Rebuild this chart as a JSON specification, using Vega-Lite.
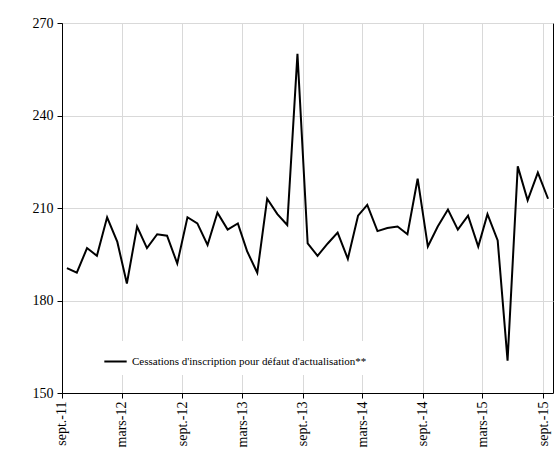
{
"$schema":"https://vega.github.io/schema/vega-lite/v6.json",
"width":491,"height":370,
"autosize":{"type":"none"},
"padding":{"left":62,"top":23,"right":6,"bottom":81},
"background":"white",
"config":{"font":"Liberation Serif","view":{"stroke":"black","strokeWidth":1}},
"data":{"values":[
{"d":"2011-09-01","v":190.5},{"d":"2011-10-01","v":189},{"d":"2011-11-01","v":197},{"d":"2011-12-01","v":194.5},
{"d":"2012-01-01","v":207},{"d":"2012-02-01","v":199},{"d":"2012-03-01","v":185.5},{"d":"2012-04-01","v":204},
{"d":"2012-05-01","v":197},{"d":"2012-06-01","v":201.5},{"d":"2012-07-01","v":201},{"d":"2012-08-01","v":192},
{"d":"2012-09-01","v":207},{"d":"2012-10-01","v":205},{"d":"2012-11-01","v":198},{"d":"2012-12-01","v":208.5},
{"d":"2013-01-01","v":203},{"d":"2013-02-01","v":205},{"d":"2013-03-01","v":196},{"d":"2013-04-01","v":189},
{"d":"2013-05-01","v":213},{"d":"2013-06-01","v":208},{"d":"2013-07-01","v":204.5},{"d":"2013-08-01","v":260},
{"d":"2013-09-01","v":198.5},{"d":"2013-10-01","v":194.5},{"d":"2013-11-01","v":198.5},{"d":"2013-12-01","v":202},
{"d":"2014-01-01","v":193.5},{"d":"2014-02-01","v":207.5},{"d":"2014-03-01","v":211},{"d":"2014-04-01","v":202.5},
{"d":"2014-05-01","v":203.5},{"d":"2014-06-01","v":204},{"d":"2014-07-01","v":201.5},{"d":"2014-08-01","v":219.5},
{"d":"2014-09-01","v":197.5},{"d":"2014-10-01","v":204},{"d":"2014-11-01","v":209.5},{"d":"2014-12-01","v":203},
{"d":"2015-01-01","v":207.5},{"d":"2015-02-01","v":197.5},{"d":"2015-03-01","v":208},{"d":"2015-04-01","v":199.5},
{"d":"2015-05-01","v":160.5},{"d":"2015-06-01","v":223.5},{"d":"2015-07-01","v":212.5},{"d":"2015-08-01","v":221.5},
{"d":"2015-09-01","v":213}
]},
"mark":{"type":"line","strokeWidth":2},
"encoding":{
"x":{"field":"d","type":"temporal","title":null,
"scale":{"type":"utc","domain":[{"year":2011,"month":8,"date":17,"utc":true},{"year":2015,"month":9,"date":16,"utc":true}],"nice":false},
"axis":{"values":[
{"year":2011,"month":9,"date":1,"utc":true},{"year":2012,"month":3,"date":1,"utc":true},
{"year":2012,"month":9,"date":1,"utc":true},{"year":2013,"month":3,"date":1,"utc":true},
{"year":2013,"month":9,"date":1,"utc":true},{"year":2014,"month":3,"date":1,"utc":true},
{"year":2014,"month":9,"date":1,"utc":true},{"year":2015,"month":3,"date":1,"utc":true},
{"year":2015,"month":9,"date":1,"utc":true}],
"tickOffset":-5,
"labelAngle":-90,"labelAlign":"right","labelBaseline":"middle","labelFontSize":14,"labelColor":"black","labelFont":"Liberation Serif","labelExpr":"(utcmonth(datum.value)==2?'mars-':'sept.-')+utcFormat(datum.value,'%y')","grid":true,"gridColor":"#d9d9d9","domainColor":"black","tickColor":"black","tickSize":5,"labelPadding":3,"labelFlush":false,"labelOverlap":false}},
"y":{"field":"v","type":"quantitative","title":null,
"scale":{"domain":[150,270],"nice":false,"zero":false},
"axis":{"values":[150,180,210,240,270],"labelFontSize":14,"labelColor":"black","labelFont":"Liberation Serif","grid":true,"gridColor":"#d9d9d9","domainColor":"black","tickColor":"black","tickSize":5,"labelPadding":4}},
"color":{"datum":"Cessations d'inscription pour défaut d'actualisation**","type":"nominal","scale":{"range":["black"]},
"legend":{"title":null,"orient":"none","legendX":33,"legendY":318,"direction":"horizontal","fillColor":"white","padding":8,"symbolType":"stroke","symbolStrokeWidth":2,"symbolSize":500,"labelFontSize":11,"labelFont":"Liberation Serif","labelColor":"black","labelLimit":500}}
}
}
